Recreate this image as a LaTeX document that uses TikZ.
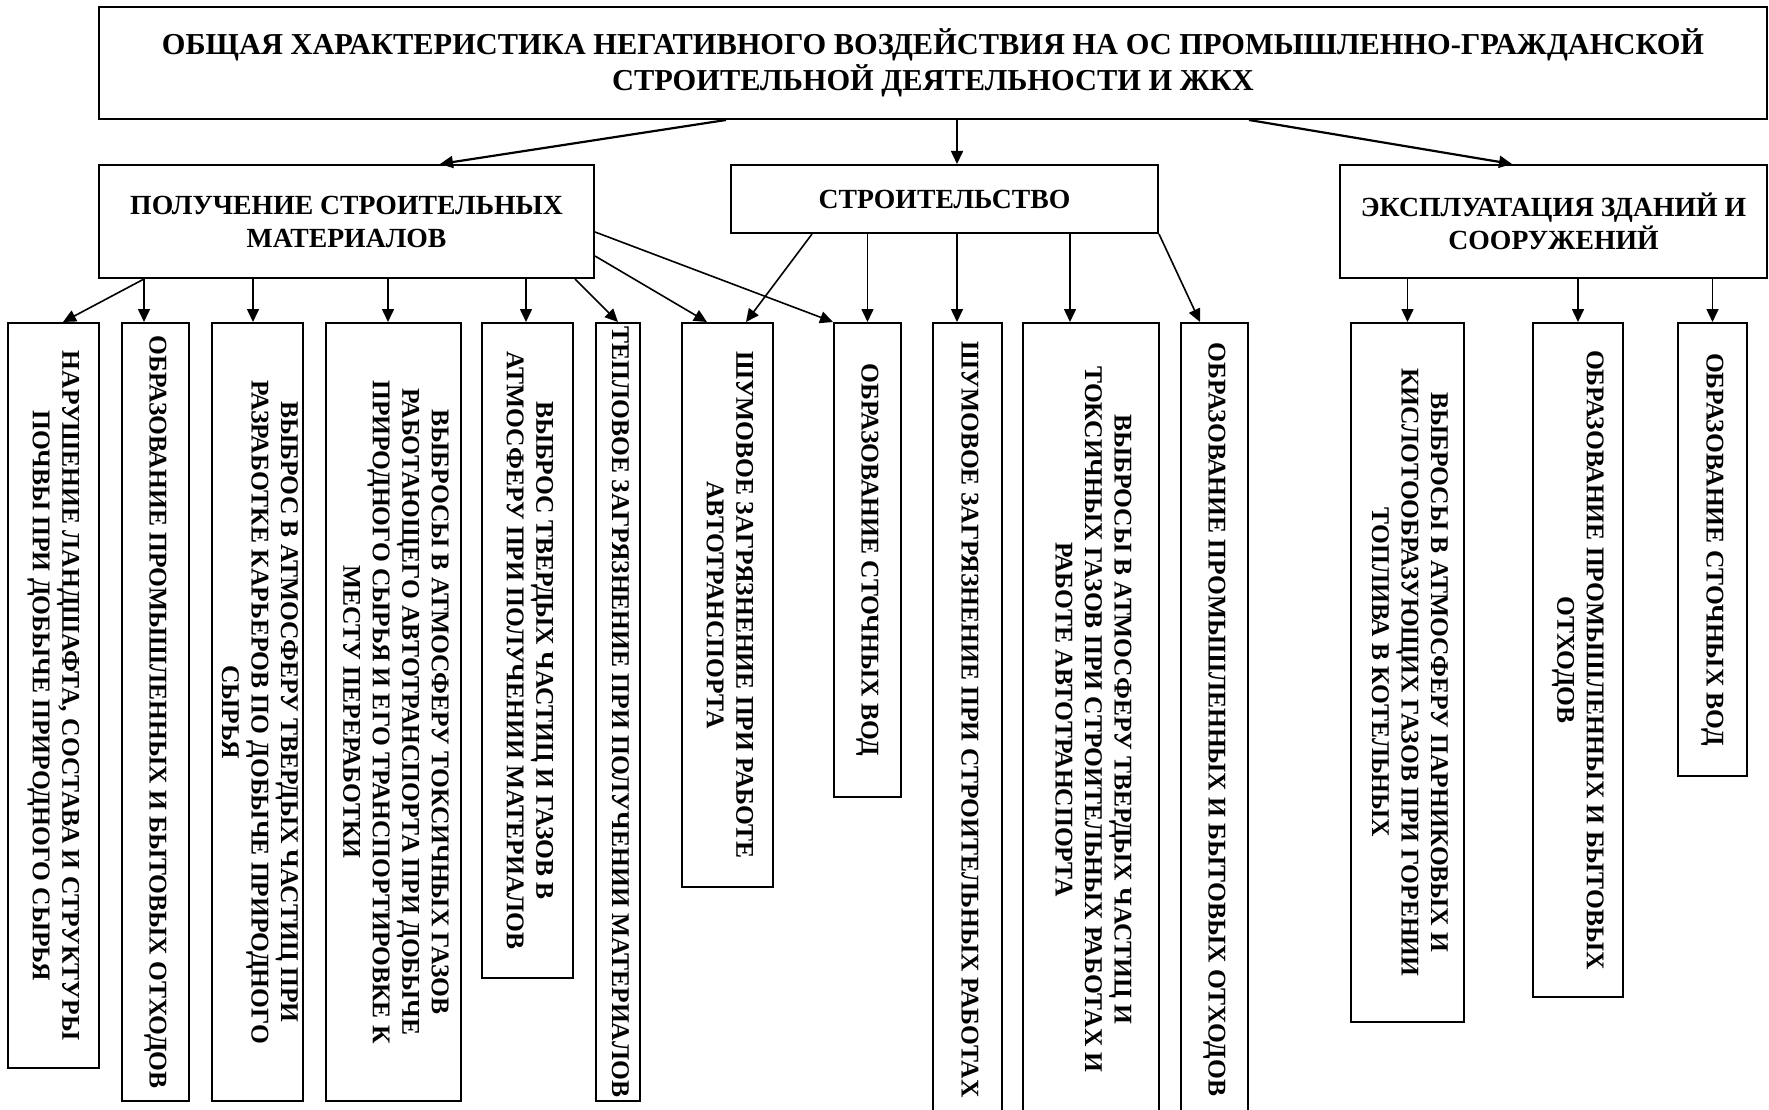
\documentclass[tikz,border=0pt]{standalone}
\usepackage{fontspec}
\usepackage{graphicx}
\setmainfont{Liberation Serif}
\usetikzlibrary{arrows.meta}
\newcommand{\titlefont}{\fontsize{30.4}{36}\selectfont\bfseries}
\newcommand{\midfont}{\fontsize{27.7}{33}\selectfont\bfseries}
\newcommand{\leaffont}{\fontsize{25.5}{29.5}\selectfont\bfseries}
\newcommand{\vtext}[1]{\rotatebox{-90}{\begin{tabular}{@{}c@{}}#1\end{tabular}}}
\begin{document}
\begin{tikzpicture}[x=1pt,y=-1pt,
	box/.style={draw, line width=2pt, inner sep=0pt, align=center},
	arr/.style={-{Triangle[length=13pt,width=12pt]}, line width=1.6pt},
	bigarr/.style={arr, line width=2.2pt}]
	\useasboundingbox (0,0) rectangle (1769,1110);
	% Title
	\node[box, minimum width=1668, minimum height=112, font=\titlefont] (top) at (933,63)
		{ОБЩАЯ ХАРАКТЕРИСТИКА НЕГАТИВНОГО ВОЗДЕЙСТВИЯ НА ОС ПРОМЫШЛЕННО-ГРАЖДАНСКОЙ\\СТРОИТЕЛЬНОЙ ДЕЯТЕЛЬНОСТИ И ЖКХ};
	% Second level
	\node[box, minimum width=495, minimum height=113, font=\midfont] (mat) at (346.5,221.5) {ПОЛУЧЕНИЕ СТРОИТЕЛЬНЫХ\\МАТЕРИАЛОВ};
	\node[box, minimum width=427, minimum height=68, font=\midfont] (build) at (944.5,199) {СТРОИТЕЛЬСТВО};
	\node[box, minimum width=427, minimum height=113, font=\midfont] (exp) at (1553.5,221.5) {ЭКСПЛУАТАЦИЯ ЗДАНИЙ И\\СООРУЖЕНИЙ};
	\draw[bigarr] ([xshift=-207pt]top.south) -- ([xshift=93.5pt]mat.north);
	\draw[arr] ([xshift=24pt]top.south) -- ([xshift=12.5pt]build.north);
	\draw[bigarr] ([xshift=316pt]top.south) -- ([xshift=-41.5pt]exp.north);
	% Leaves: number / left / right / bottom / text
	\foreach \n/\xa/\xb/\yb/\txt in {
		1/8/99/1068/{НАРУШЕНИЕ ЛАНДШАФТА, СОСТАВА И СТРУКТУРЫ\\ПОЧВЫ ПРИ ДОБЫЧЕ ПРИРОДНОГО СЫРЬЯ},
		2/122/189/1101/{ОБРАЗОВАНИЕ ПРОМЫШЛЕННЫХ И БЫТОВЫХ ОТХОДОВ},
		3/212/303/1101/{ВЫБРОС В АТМОСФЕРУ ТВЕРДЫХ ЧАСТИЦ ПРИ\\РАЗРАБОТКЕ КАРЬЕРОВ ПО ДОБЫЧЕ ПРИРОДНОГО\\СЫРЬЯ},
		4/326/461/1101/{ВЫБРОСЫ В АТМОСФЕРУ ТОКСИЧНЫХ ГАЗОВ\\РАБОТАЮЩЕГО АВТОТРАНСПОРТА ПРИ ДОБЫЧЕ\\ПРИРОДНОГО СЫРЬЯ И ЕГО ТРАНСПОРТИРОВКЕ К\\МЕСТУ ПЕРЕРАБОТКИ},
		5/482/573/978/{ВЫБРОС ТВЕРДЫХ ЧАСТИЦ И ГАЗОВ В\\АТМОСФЕРУ ПРИ ПОЛУЧЕНИИ МАТЕРИАЛОВ},
		6/596/640/1101/{ТЕПЛОВОЕ ЗАГРЯЗНЕНИЕ ПРИ ПОЛУЧЕНИИ МАТЕРИАЛОВ},
		7/682/773/887/{ШУМОВОЕ ЗАГРЯЗНЕНИЕ ПРИ РАБОТЕ\\АВТОТРАНСПОРТА},
		8/834/901/797/{ОБРАЗОВАНИЕ СТОЧНЫХ ВОД},
		9/933/1002/1116/{ШУМОВОЕ ЗАГРЯЗНЕНИЕ ПРИ СТРОИТЕЛЬНЫХ РАБОТАХ},
		10/1023/1159/1116/{ВЫБРОСЫ В АТМОСФЕРУ ТВЕРДЫХ ЧАСТИЦ И\\ТОКСИЧНЫХ ГАЗОВ ПРИ СТРОИТЕЛЬНЫХ РАБОТАХ И\\РАБОТЕ АВТОТРАНСПОРТА},
		11/1181/1248/1116/{ОБРАЗОВАНИЕ ПРОМЫШЛЕННЫХ И БЫТОВЫХ ОТХОДОВ},
		12/1351/1464/1022/{ВЫБРОСЫ В АТМОСФЕРУ ПАРНИКОВЫХ И\\КИСЛОТООБРАЗУЮЩИХ ГАЗОВ ПРИ ГОРЕНИИ\\ТОПЛИВА В КОТЕЛЬНЫХ},
		13/1533/1623/997/{ОБРАЗОВАНИЕ ПРОМЫШЛЕННЫХ И БЫТОВЫХ\\ОТХОДОВ},
		14/1678/1747/776/{ОБРАЗОВАНИЕ СТОЧНЫХ ВОД}}
		\node[box, minimum width={\xb-\xa}, minimum height={\yb-323}, font=\leaffont] (l\n)
			at ({(\xa+\xb)/2},{(323+\yb)/2}) {\vtext{\txt}};
	% Straight arrows down: parent / child / shift
	\foreach \p/\c/\dx in {mat/l2/-11.5, mat/l3/-4.5, mat/l4/-5.5, mat/l5/-1.5,
		build/l8/0, build/l9/-10.5, build/l10/-21, exp/l12/0, exp/l13/0, exp/l14/0}
		\draw[arr] ([xshift=\dx pt]\c.north |- \p.south) -- ([xshift=\dx pt]\c.north);
	% Slanted arrows
	\draw[arr] ([xshift=-202.5pt]mat.south) -- ([xshift=9.5pt]l1.north);
	\draw[arr] ([xshift=228.5pt]mat.south) -- (l6.north);
	\draw[arr] ([yshift=-34.5pt]mat.east) -- ([xshift=-20.5pt]l7.north);
	\draw[arr] ([yshift=-10.5pt]mat.east) -- (l8.north west);
	\draw[arr] ([xshift=-132.5pt]build.south) -- ([xshift=18.5pt]l7.north);
	\draw[arr] (build.south east) -- ([xshift=-14.5pt]l11.north);
\end{tikzpicture}
\end{document}
